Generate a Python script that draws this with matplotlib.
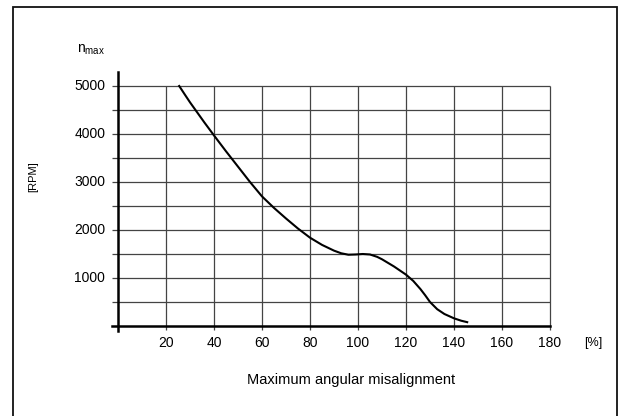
import matplotlib
matplotlib.use('Agg')
from matplotlib import pyplot as plt
from matplotlib.patches import Rectangle

plt.rcParams['font.family'] = ['Liberation Sans', 'DejaVu Sans']

# misalignment [%] and max speed [RPM]
misalign = [25.5, 28, 30, 33, 36, 40, 45, 50, 55, 60, 65, 70, 75, 80, 85, 90, 93, 96, 99,
            102, 105, 108, 110, 115, 120, 123, 126, 128, 130, 133, 136, 140, 143, 145.5]
n_max = [5000, 4810, 4660, 4450, 4240, 3970, 3640, 3320, 3000, 2700, 2460, 2240, 2030, 1840,
         1690, 1570, 1515, 1485, 1490, 1500, 1490, 1440, 1390, 1240, 1070, 940, 770, 640, 500,
         350, 250, 160, 110, 80]

x_ticks = [20, 40, 60, 80, 100, 120, 140, 160, 180]
x_labels = ['20', '40', '60', '80', '100', '120', '140', '160', '180']
y_ticks = [1000, 2000, 3000, 4000, 5000]
y_grid = [500, 1000, 1500, 2000, 2500, 3000, 3500, 4000, 4500, 5000]

fig = plt.figure(figsize=(6.21, 4.16), dpi=100)
fig.patches.append(Rectangle((13/621, -0.05), 604/621, 1.05 - 7/416, transform=fig.transFigure,
                             fill=False, edgecolor='#111111', linewidth=1.3))

ax = fig.add_axes([112/621, 85.2/416, 438/621, 259.2/416])
ax.set_xlim(-2.5, 180)
ax.set_ylim(-100, 5300)
ax.axis('off')

gc = '#444444'
ax.hlines(y_grid, -2.5, 180, colors=gc, linewidth=0.9, clip_on=False)
ax.vlines(x_ticks, -80, 5000, colors=gc, linewidth=0.9, clip_on=False)
ax.plot([-2.5, 180], [0, 0], color='black', linewidth=1.8, clip_on=False)
ax.plot([0, 0], [-100, 5300], color='black', linewidth=1.8, clip_on=False)

ax.plot(misalign, n_max, color='black', linewidth=1.5, solid_joinstyle='round')

for v in y_ticks:
    ax.text(-5.3, v, str(v), ha='right', va='center', fontsize=10)
for v, s in zip(x_ticks, x_labels):
    ax.text(v, -360, s, ha='center', va='center', fontsize=10)
ax.text(198, -360, '[%]', ha='center', va='center', fontsize=9)

fig.text(351/621, 1 - 380/416, 'Maximum angular misalignment', ha='center', va='center', fontsize=10.5)
fig.text(77/621, 1 - 50/416, r'n$_{\mathregular{max}}$', ha='left', va='center', fontsize=10)
fig.text(33/621, 1 - 177/416, '[RPM]', ha='center', va='center', rotation=90, fontsize=8)

fig.savefig('out.png', dpi=100)
